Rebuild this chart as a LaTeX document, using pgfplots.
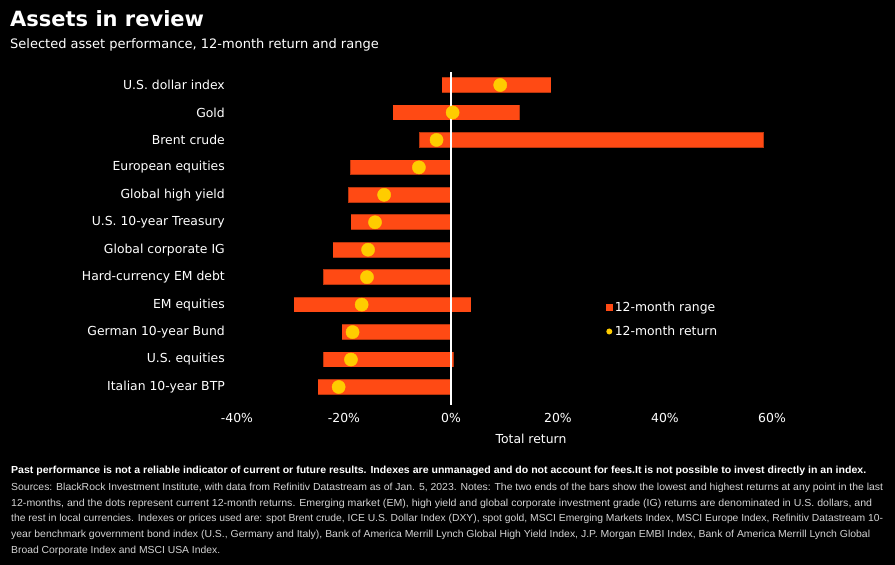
\documentclass[border=0pt]{standalone}
\usepackage{pgfplots}
\pgfplotsset{compat=1.18}
\usepackage{pgfplotstable}
\usepackage{graphicx}
\usepackage{fontspec}
\setmainfont{DejaVu Sans}
\newfontfamily\footfont{Liberation Sans}
\definecolor{barorange}{HTML}{FF4A14}
\definecolor{baredge}{HTML}{B8360E}
\definecolor{dotyellow}{HTML}{FFCC00}
\definecolor{footgray}{HTML}{D4D4D4}

% y: row from top, lo/hi: 12-month range ends, ret: current 12-month return (%)
\pgfplotstableread{
y lo hi ret
0 -1.6 18.6 9.2
1 -10.8 12.7 0.3
2 -5.8 58.3 -2.7
3 -18.7 0 -6.0
4 -19.1 0 -12.5
5 -18.6 0 -14.2
6 -22.0 0 -15.5
7 -23.8 0 -15.7
8 -29.3 3.7 -16.7
9 -20.3 0 -18.4
10 -23.8 0.4 -18.7
11 -24.8 0 -21.0
}\assets

\newcommand\lab{\fontsize{12.4}{14}\selectfont}
\newcommand\fl[2]{\resizebox{#1}{\height}{#2}}

\begin{document}
\begin{tikzpicture}
\fill[black] (0pt,0pt) rectangle (895pt,565pt);

\node[anchor=base west, inner sep=0, text=white, font=\fontsize{21}{25}\selectfont\bfseries] at (10pt,538pt) {Assets in review};
\node[anchor=base west, inner sep=0, text=white, font=\fontsize{13}{15}\selectfont] at (10pt,516pt) {Selected asset performance, 12-month return and range};

\begin{axis}[
    at={(237pt,164.3pt)}, anchor=south west,
    scale only axis, width=535pt, height=329.4pt,
    xmin=-40, xmax=60, ymin=-0.5, ymax=11.5,
    y dir=reverse,
    clip=false,
    axis line style={draw=none},
    major tick length=0pt,
    xtick={-40,-20,...,60},
    xticklabel={\pgfmathprintnumber{\tick}\%},
    /pgf/number format/assume math mode=true,
    ytick={0,...,11},
    yticklabels={U.S. dollar index, Gold, Brent crude, European equities,
      Global high yield, U.S. 10-year Treasury, Global corporate IG,
      Hard-currency EM debt, EM equities, German 10-year Bund,
      U.S. equities, Italian 10-year BTP},
    ticklabel style={text=white, font=\lab},
    xticklabel style={anchor=base, yshift=-21.8pt},
    yticklabel style={anchor=east, inner sep=0pt, xshift=-12pt},
    xlabel={Total return},
    xlabel style={at={(axis description cs:0.5495,0)}, anchor=base,
      yshift=-42.3pt, text=white, font=\lab},
    legend style={at={(axis description cs:0.689,0.306)}, anchor=north west,
      draw=none, fill=none, text=white, font=\lab, row sep=9pt, inner sep=0pt},
    legend cell align=left,
  ]

% thin darker rim of the range bars
\addplot[forget plot, draw=baredge, line width=15.6pt,
  quiver={u=\thisrow{hi}-\thisrow{lo}+0.24, v=0}]
  table[x expr=\thisrow{lo}-0.12, y=y] {\assets};

\addplot[draw=barorange, line width=14.2pt,
  quiver={u=\thisrow{hi}-\thisrow{lo}, v=0},
  legend image code/.code={\path[fill=barorange, draw=none] (0pt,-3.5pt) rectangle (7pt,3.5pt);}]
  table[x=lo, y=y] {\assets};
\addlegendentry{12-month range}

\addplot[forget plot, white, line width=1.4pt] coordinates {(0,-0.47) (0,11.66)};

\addplot[only marks, color=dotyellow, mark=*, mark size=6.6pt,
  mark options={draw=none, fill=dotyellow},
  legend image code/.code={\path[fill=dotyellow, draw=none] (3.5pt,0pt) circle (3pt);}]
  table[x=ret, y=y] {\assets};
\addlegendentry{12-month return}
\end{axis}

\begin{scope}[every node/.style={anchor=base west, inner sep=0}]
\node[text=white, font=\footfont\bfseries\fontsize{10.2}{12}\selectfont] at (11pt,91pt)
  {\fl{855pt}{Past performance is not a reliable indicator of current or future results. Indexes are unmanaged and do not account for fees.It is not possible to invest directly in an index.}};
\node[text=footgray, font=\footfont\fontsize{10.2}{12}\selectfont] at (11pt,74pt)
  {\fl{872pt}{Sources: BlackRock Investment Institute, with data from Refinitiv Datastream as of Jan. 5, 2023. Notes: The two ends of the bars show the lowest and highest returns at any point in the last}};
\node[text=footgray, font=\footfont\fontsize{10.2}{12}\selectfont] at (11pt,58pt)
  {\fl{861pt}{12-months, and the dots represent current 12-month returns. Emerging market (EM), high yield and global corporate investment grade (IG) returns are denominated in U.S. dollars, and}};
\node[text=footgray, font=\footfont\fontsize{10.2}{12}\selectfont] at (11pt,43pt)
  {\fl{872pt}{the rest in local currencies. Indexes or prices used are: spot Brent crude, ICE U.S. Dollar Index (DXY), spot gold, MSCI Emerging Markets Index, MSCI Europe Index, Refinitiv Datastream 10-}};
\node[text=footgray, font=\footfont\fontsize{10.2}{12}\selectfont] at (11pt,27pt)
  {\fl{859pt}{year benchmark government bond index (U.S., Germany and Italy), Bank of America Merrill Lynch Global High Yield Index, J.P. Morgan EMBI Index, Bank of America Merrill Lynch Global}};
\node[text=footgray, font=\footfont\fontsize{10.2}{12}\selectfont] at (11pt,11pt)
  {\fl{209pt}{Broad Corporate Index and MSCI USA Index.}};
\end{scope}

\pgfresetboundingbox
\path (0pt,0pt) rectangle (895pt,565pt);
\end{tikzpicture}
\end{document}
